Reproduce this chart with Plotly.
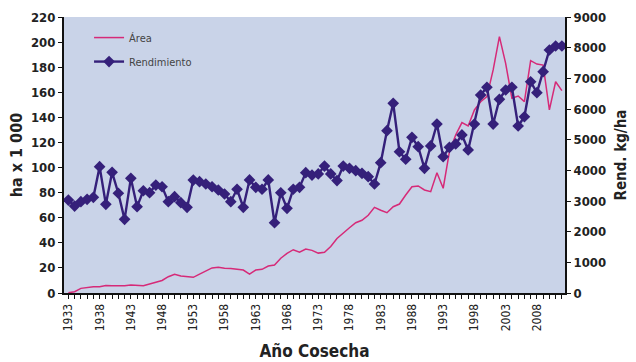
import plotly.graph_objects as go

years = list(range(1933, 2013))

area = [0.2, 1, 3.7, 4.5, 5, 5, 6, 5.8, 5.6, 5.8, 6.4, 6.4, 5.8, 7.2, 8.3, 10, 13, 15, 13.6, 13,
        12.5, 15, 17.5, 20, 20.5, 19.7, 19.5, 18.9, 18.3, 15.1, 18.3, 18.9, 21.5, 22.3, 27.7, 31.5, 34.5, 32.5, 35, 34,
        31.8, 32.5, 37, 43.5, 48, 52, 56, 58, 62, 68.3, 66, 64, 68.8, 70.9, 78.1, 84.7, 85.3, 82.1, 80.8, 95.9,
        83.5, 112.6, 126, 135.8, 133.1, 145.9, 152.5, 156.5, 177.8, 204.3, 183.1, 155.2, 157, 152.5, 185.2, 182.5, 181.7, 145.9, 168.4, 161.3]

rend = [3031, 2835, 2978, 3056, 3121, 4120, 2892, 3935, 3252, 2401,
        3739, 2815, 3334, 3273, 3518, 3465, 2978, 3142, 2945, 2794,
        3682, 3629, 3555, 3465, 3359, 3228, 2978, 3383, 2794, 3686,
        3445, 3383, 3686, 2291, 3269, 2761, 3383, 3445, 3923, 3845,
        3882, 4140, 3882, 3665, 4140, 4066, 3989, 3903, 3792, 3555,
        4250, 5294, 6185, 4606, 4361, 5077, 4770, 4066, 4795, 5510,
        4443, 4750, 4860, 5155, 4664, 5510, 6455, 6709, 5510, 6316,
        6619, 6709, 5445, 5748, 6889, 6533, 7216, 7924, 8055, 8055]

tick_years = [1933, 1938, 1943, 1948, 1953, 1958, 1963, 1968, 1973, 1978, 1983, 1988, 1993, 1998, 2003, 2008]
tick_text = ["1933", "1938", "1943", "1948", "1953", "1958", "1963", "1968", "1973", "1978",
             "1983", "1988", "1993", "1998", "2003", "2008"]

FONT = "DejaVu Sans Condensed, Liberation Sans Narrow, Arial Narrow, Liberation Sans, Arial, sans-serif"
INK = "#222"

fig = go.Figure()
fig.add_trace(go.Scatter(x=years, y=area, name="Área", mode="lines", legendgroup="a",
                         line=dict(color="#D62A78", width=1.5), yaxis="y"))
fig.add_trace(go.Scatter(x=years, y=rend, name="Rendimiento", mode="lines+markers", legendgroup="b",
                         line=dict(color="#35207A", width=2.4),
                         marker=dict(symbol="diamond", size=9, color="#35207A"), yaxis="y2"))

axis_common = dict(showgrid=False, zeroline=False, showline=True, linecolor="#111", linewidth=2,
                   ticks="outside", ticklen=4, tickcolor="#111", automargin=False)

fig.update_layout(
    width=636, height=362,
    margin=dict(l=64, r=71, t=17, b=69),
    paper_bgcolor="white",
    plot_bgcolor="#C9D3E8",
    font=dict(family=FONT, color=INK),
    showlegend=True,
    legend=dict(x=0.05, y=0.978, xanchor="left", yanchor="top", bgcolor="rgba(0,0,0,0)",
                traceorder="grouped", tracegroupgap=5,
                font=dict(size=11, color="#444", family=FONT)),
    xaxis=dict(range=[1932.3, 2012.5], tickmode="array", tickvals=tick_years, ticktext=tick_text,
               tickangle=-90, tickfont=dict(size=12, family=FONT, color=INK),
               tickprefix="<b>", ticksuffix="</b>",
               minor=dict(dtick=1, ticks="outside", ticklen=4, tickcolor="#111"),
               title=dict(text="<b>Año Cosecha</b>", font=dict(size=17, family=FONT, color=INK), standoff=15),
               **axis_common),
    yaxis=dict(range=[0, 220], dtick=20,
               tickfont=dict(size=13, family=FONT, color=INK),
               tickprefix="<b>", ticksuffix="</b>",
               title=dict(text="<b>ha x 1 000</b>", font=dict(size=16, family=FONT, color=INK), standoff=4),
               **axis_common),
    yaxis2=dict(range=[0, 9000], dtick=1000, overlaying="y", side="right",
                tickfont=dict(size=13, family=FONT, color=INK),
                tickprefix="<b>", ticksuffix="</b>",
                title=dict(text="<b>Rend. kg/ha</b>", font=dict(size=15, family=FONT, color=INK), standoff=10),
                **axis_common),
)

fig.write_html("out.html", config={"displayModeBar": False},
               post_script="document.body.style.margin='0';")
